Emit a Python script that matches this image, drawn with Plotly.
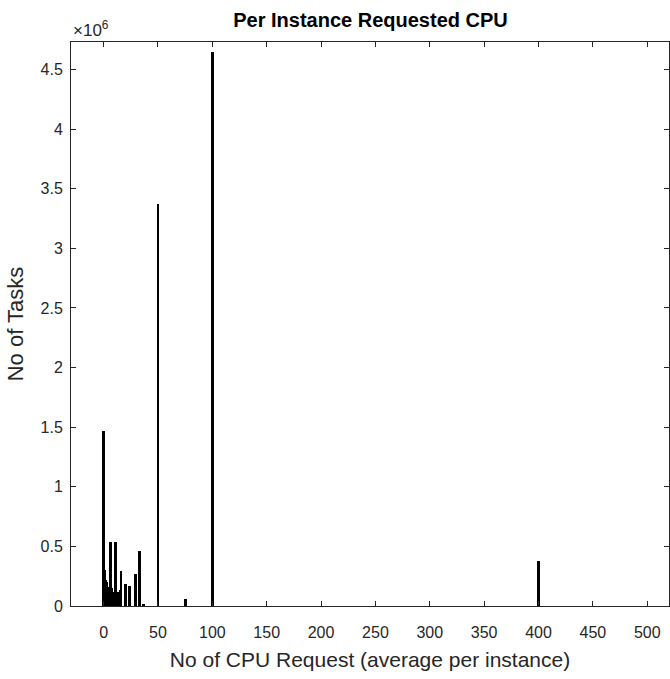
import plotly.graph_objects as go

# Data
cpu_request = [0, 1, 2, 3, 4, 5, 6, 7, 8, 9, 10, 11, 12, 13, 14, 15, 16,
               20, 24, 29, 33, 37, 50, 75, 100, 400]
task_counts = [1466000, 305000, 222000, 202000, 161000, 101000, 540000, 151000,
               121000, 81000, 61000, 540000, 91000, 101000, 121000, 131000, 292000,
               182000, 171000, 272000, 464000, 20000, 3370000, 61000, 4645000, 377000]

y_tick_vals = [0, 500000, 1000000, 1500000, 2000000, 2500000, 3000000,
               3500000, 4000000, 4500000]
y_tick_text = ["0", "0.5", "1", "1.5", "2", "2.5", "3", "3.5", "4", "4.5"]
x_tick_vals = [0, 50, 100, 150, 200, 250, 300, 350, 400, 450, 500]

FONT = "Liberation Sans, Arial, Helvetica, sans-serif"
AX = "#262626"

fig = go.Figure()
fig.add_trace(go.Bar(
    x=cpu_request, y=task_counts, width=2.6,
    marker=dict(color="black", line=dict(width=0)),
))

fig.update_layout(
    width=670, height=679,
    margin=dict(l=71, r=1, t=42, b=73),
    paper_bgcolor="white", plot_bgcolor="white",
    showlegend=False, bargap=0,
    font=dict(family=FONT, color=AX, size=16),
    title=dict(text="<b>Per Instance Requested CPU</b>", x=0.553, xanchor="center",
               y=0.970, yanchor="middle", font=dict(family=FONT, size=20, color="black")),
    xaxis=dict(
        range=[-30, 520], tickvals=x_tick_vals, ticks="inside", ticklen=5,
        tickcolor=AX, showline=True, linecolor=AX, linewidth=1, mirror="allticks",
        showgrid=False, zeroline=False, tickfont=dict(size=16, color=AX),
        ticklabelstandoff=12,
        title=dict(text="No of CPU Request (average per instance)",
                   font=dict(size=21, color=AX), standoff=12),
    ),
    yaxis=dict(
        range=[0, 4730000], tickvals=y_tick_vals, ticktext=y_tick_text,
        ticks="inside", ticklen=5, tickcolor=AX, showline=True, linecolor=AX,
        linewidth=1, mirror="allticks", showgrid=False, zeroline=False,
        tickfont=dict(size=16, color=AX), ticklabelstandoff=4,
        title=dict(text="No of Tasks", font=dict(size=22, color=AX), standoff=10),
    ),
    annotations=[dict(
        text="×10<sup>6</sup>", xref="paper", yref="paper", x=0, y=1.0,
        xanchor="left", yanchor="bottom", showarrow=False,
        font=dict(family=FONT, size=17, color=AX), yshift=0,
    )],
)

fig.write_html("out.html")
